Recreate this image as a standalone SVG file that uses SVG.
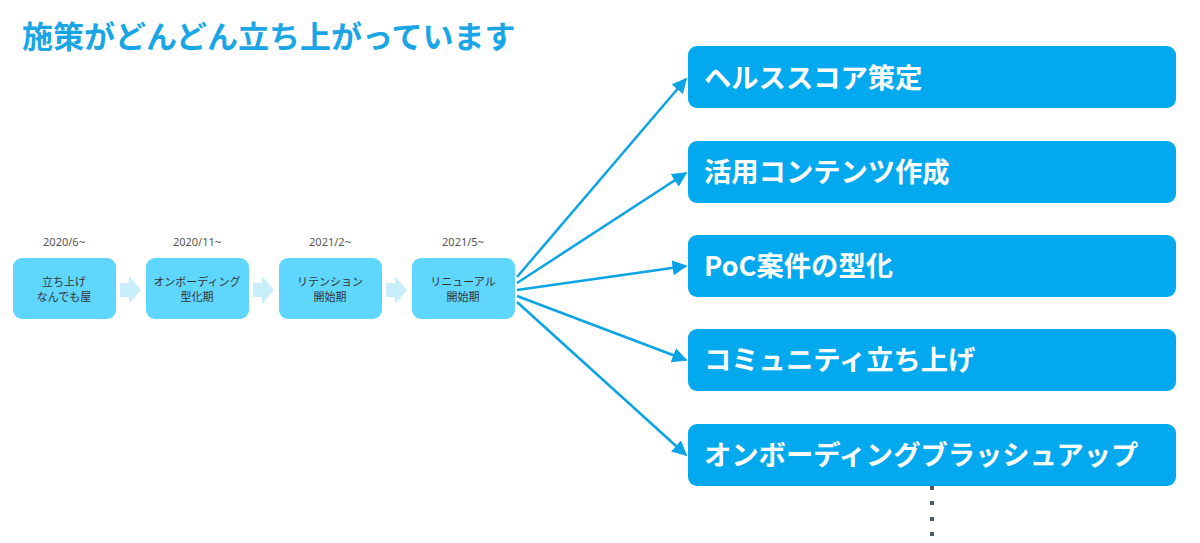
<svg xmlns="http://www.w3.org/2000/svg" width="1200" height="543" viewBox="0 0 1200 543">
<defs>
<style>
.jp{font-family:"Noto Sans CJK JP","Noto Sans",sans-serif}
.title{font-size:31px;font-weight:700;fill:#1aa6e6}
.sbox{fill:#5fd6fd}
.stext{font-size:11px;fill:#333;text-anchor:middle}
.date{font-size:11px;fill:#555;text-anchor:middle;font-family:"Noto Sans","DejaVu Sans",sans-serif}
.bbox{fill:#03a9ef}
.btext{font-size:27.3px;font-weight:700;fill:#fff}
.step{fill:#c8eefc}
.conn{stroke:#0aa4e6;stroke-width:2.5;fill:none;marker-end:url(#ah)}
.dot{fill:#4f5766}
</style>
<marker id="ah" viewBox="0 0 10 10" refX="9" refY="5" markerWidth="6" markerHeight="6" markerUnits="strokeWidth" orient="auto">
<path d="M0,0 L10,5 L0,10 z" fill="#0aa4e6"/>
</marker>
</defs>
<rect width="1200" height="543" fill="#fff"/>
<text class="jp title" x="22" y="48">施策がどんどん立ち上がっています</text>

<g id="step-arrows">
<path class="step" d="M120,283 h9 v-7 l12,14 l-12,14 v-7 h-9 z"/>
<path class="step" d="M253,283 h9 v-7 l12,14 l-12,14 v-7 h-9 z"/>
<path class="step" d="M386,283 h9 v-7 l12,14 l-12,14 v-7 h-9 z"/>
</g>

<g id="phase1">
<text class="date" x="64" y="246">2020/6~</text>
<rect class="sbox" x="13" y="258" width="103" height="61" rx="9"/>
<text class="jp stext" x="64" y="286">立ち上げ</text>
<text class="jp stext" x="64" y="301">なんでも屋</text>
</g>
<g id="phase2">
<text class="date" x="197" y="246">2020/11~</text>
<rect class="sbox" x="146" y="258" width="103" height="61" rx="9"/>
<text class="jp stext" x="197" y="286">オンボーディング</text>
<text class="jp stext" x="197" y="301">型化期</text>
</g>
<g id="phase3">
<text class="date" x="330" y="246">2021/2~</text>
<rect class="sbox" x="279" y="258" width="103" height="61" rx="9"/>
<text class="jp stext" x="330" y="286">リテンション</text>
<text class="jp stext" x="330" y="301">開始期</text>
</g>
<g id="phase4">
<text class="date" x="463" y="246">2021/5~</text>
<rect class="sbox" x="412" y="258" width="103" height="61" rx="9"/>
<text class="jp stext" x="463" y="286">リニューアル</text>
<text class="jp stext" x="463" y="301">開始期</text>
</g>

<g id="connectors">
<line class="conn" x1="517" y1="277" x2="686" y2="79"/>
<line class="conn" x1="517" y1="283" x2="686" y2="173"/>
<line class="conn" x1="517" y1="290" x2="686" y2="266"/>
<line class="conn" x1="517" y1="296" x2="686" y2="360"/>
<line class="conn" x1="517" y1="302" x2="686" y2="455"/>
</g>

<g id="item1">
<rect class="bbox" x="688" y="46" width="488" height="62" rx="9"/>
<text class="jp btext" x="704" y="88">ヘルススコア策定</text>
</g>
<g id="item2">
<rect class="bbox" x="688" y="141" width="488" height="62" rx="9"/>
<text class="jp btext" x="704" y="182">活用コンテンツ作成</text>
</g>
<g id="item3">
<rect class="bbox" x="688" y="235" width="488" height="62" rx="9"/>
<text class="jp btext" x="704" y="276">PoC案件の型化</text>
</g>
<g id="item4">
<rect class="bbox" x="688" y="329" width="488" height="62" rx="9"/>
<text class="jp btext" x="704" y="370">コミュニティ立ち上げ</text>
</g>
<g id="item5">
<rect class="bbox" x="688" y="424" width="488" height="62" rx="9"/>
<text class="jp btext" x="704" y="465">オンボーディングブラッシュアップ</text>
</g>

<g id="ellipsis">
<rect class="dot" x="930" y="486" width="4" height="4"/>
<rect class="dot" x="930" y="501" width="4" height="4"/>
<rect class="dot" x="930" y="517" width="4" height="4"/>
<rect class="dot" x="930" y="532" width="4" height="4"/>
</g>
</svg>
